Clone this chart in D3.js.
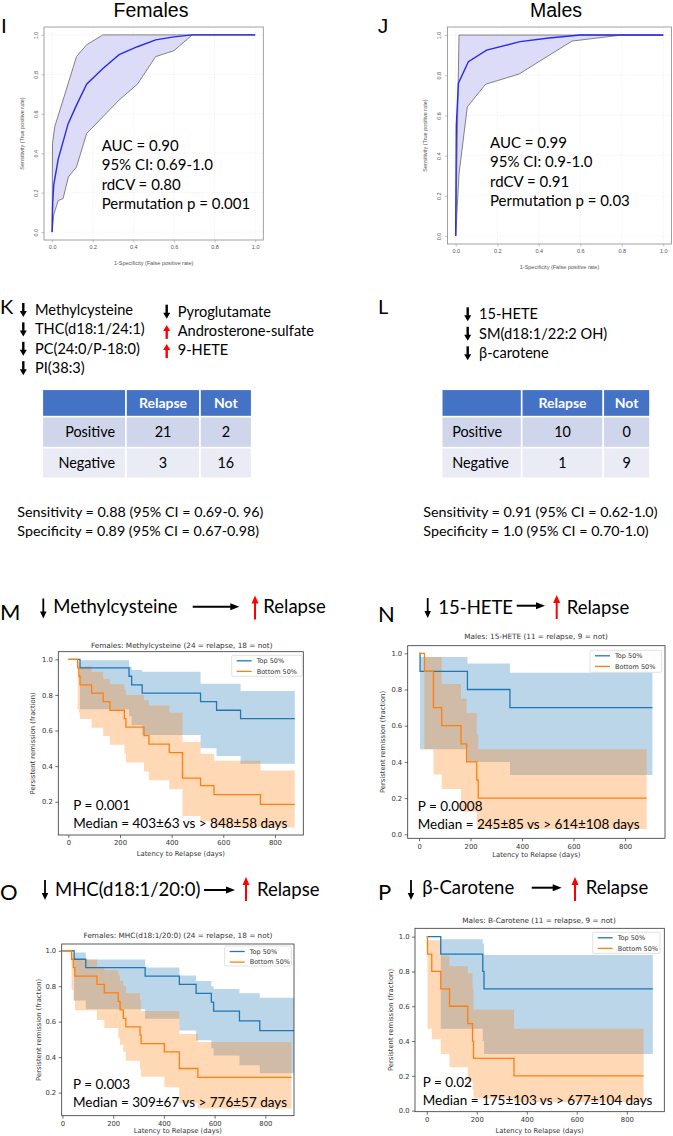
<!DOCTYPE html>
<html>
<head>
<meta charset="utf-8">
<script src="https://cdn.jsdelivr.net/npm/d3@7"></script>
<style>
  body { margin: 0; background: #fff; }
  svg { display: block; }
</style>
</head>
<body>
<div id="chart"></div>
<script>
var width = 673;
var height = 1136;

// ---- ROC curves, points are [false positive rate, true positive rate] ----
var rocFemMean  = [[0,0],[0.003,0.15],[0.008,0.24],[0.03,0.37],[0.079,0.55],[0.123,0.65],[0.17,0.75],[0.25,0.83],[0.33,0.9],[0.42,0.94],[0.51,0.975],[0.6,0.99],[0.69,1],[1,1]];
var rocFemUpper = [[0,0],[0.002,0.45],[0.013,0.535],[0.054,0.67],[0.12,0.89],[0.17,0.95],[0.25,1],[1,1]];
var rocFemLower = [[0,0],[0.008,0.088],[0.03,0.16],[0.054,0.17],[0.08,0.28],[0.12,0.33],[0.17,0.5],[0.33,0.67],[0.42,0.75],[0.51,0.89],[0.6,0.92],[0.69,1],[1,1]];
var rocMaleMean  = [[0,0],[0.003,0.55],[0.013,0.76],[0.061,0.867],[0.149,0.925],[0.31,0.967],[0.45,0.985],[0.6,1],[1,1]];
var rocMaleUpper = [[0,0],[0.003,0.2],[0.016,1],[1,1]];
var rocMaleLower = [[0,0],[0.016,0.31],[0.056,0.643],[0.144,0.755],[0.305,0.806],[0.56,0.97],[0.8,1],[1,1]];
var rocTicks = [0, 0.2, 0.4, 0.6, 0.8, 1.0];
var rocFemStats  = ["AUC = 0.90", "95% CI: 0.69-1.0", "rdCV = 0.80", "Permutation p = 0.001"];
var rocMaleStats = ["AUC = 0.99", "95% CI: 0.9-1.0", "rdCV = 0.91", "Permutation p = 0.03"];

// ---- metabolite panels and confusion tables ----
var femDown = ["Methylcysteine", "THC(d18:1/24:1)", "PC(24:0/P-18:0)", "PI(38:3)"];
var femMixed = [["down","Pyroglutamate"], ["up","Androsterone-sulfate"], ["up","9-HETE"]];
var maleDown = ["15-HETE", "SM(d18:1/22:2 OH)", "\u03b2-carotene"];
var tableHead = ["", "Relapse", "Not"];
var femTable  = [["Positive", 21, 2], ["Negative", 3, 16]];
var maleTable = [["Positive", 10, 0], ["Negative", 1, 9]];
var femSens  = ["Sensitivity = 0.88 (95% CI = 0.69-0. 96)", "Specificity = 0.89 (95% CI = 0.67-0.98)"];
var maleSens = ["Sensitivity = 0.91 (95% CI = 0.62-1.0)", "Specificity = 1.0 (95% CI = 0.70-1.0)"];

// ---- Kaplan-Meier curves (days, survival, 95% CI lower, upper) ----
var mTopT  = [0, 45, 235, 245, 286, 512, 574, 667];
var mTopS  = [1, .952, .905, .857, .81, .762, .714, .667];
var mTopLo = [1, .72, .68, .63, .575, .50, .457, .413];
var mTopHi = [1, .995, .96, .94, .93, .863, .863, .822];
var mBotT  = [0, 36, 41, 45, 90, 135, 161, 217, 223, 293, 312, 391, 442, 512, 564, 744];
var mBotS  = [1, .952, .905, .857, .81, .762, .714, .667, .619, .571, .524, .476, .333, .29, .24, .185];
var mBotLo = [1, .72, .70, .665, .615, .57, .52, .47, .42, .37, .32, .27, .12, .09, .055, .055];
var mBotHi = [1, .99, .98, .96, .93, .89, .86, .83, .80, .77, .74, .70, .535, .47, .43, .376];

var nTopT  = [0, 4, 188, 353];
var nTopS  = [1, .9, .8, .7];
var nTopLo = [1, .47, .40, .328];
var nTopHi = [1, .98, .944, .893];
var nBotT  = [0, 21, 56, 88, 163, 185, 224, 230];
var nBotS  = [1, .9, .7, .6, .5, .4, .3, .2];
var nBotLo = [1, .47, .33, .25, .125, .125, .05, .03];
var nBotHi = [1, .98, .98, .83, .75, .67, .55, .47];

var oTopT  = [0, 46, 92, 326, 461, 527, 587, 596, 698, 778];
var oTopS  = [1, .952, .905, .857, .81, .76, .71, .66, .605, .55];
var oTopLo = [1, .72, .67, .617, .55, .495, .45, .41, .355, .31];
var oTopHi = [1, .99, .95, .905, .86, .83, .80, .785, .76, .735];
var oBotT  = [0, 36, 43, 49, 136, 165, 220, 227, 240, 250, 306, 310, 402, 461, 534];
var oBotS  = [1, .952, .905, .857, .81, .762, .714, .667, .619, .571, .524, .476, .43, .336, .286];
var oBotLo = [1, .78, .72, .665, .61, .565, .51, .47, .43, .38, .33, .29, .23, .14, .11];
var oBotHi = [1, .99, .97, .95, .905, .89, .86, .83, .80, .76, .72, .66, .66, .53, .486];

var pTopT  = [0, 56, 224, 229];
var pTopS  = [1, .9, .8, .7];
var pTopLo = [1, .47, .40, .325];
var pTopHi = [1, .985, .96, .894];
var pBotT  = [0, 3, 20, 56, 91, 164, 183, 187, 349];
var pBotS  = [1, .9, .8, .7, .6, .5, .4, .3, .2];
var pBotLo = [1, .47, .41, .325, .25, .17, .12, .07, .05];
var pBotHi = [1, .98, .98, .89, .83, .79, .70, .58, .47];

var kmXTicks = [0, 200, 400, 600, 800];
var legendNames = ["Top 50%", "Bottom 50%"];

var sans = "Lato, 'Open Sans', sans-serif";
var arial = "'Liberation Sans', Arial, sans-serif";
var dejavu = "'DejaVu Sans', sans-serif";
var blue = "#1f77b4", orange = "#ff7f0e";

var svg = d3.select("#chart").append("svg")
    .attr("width", width)
    .attr("height", height);

function text(x, y, s, size, font, opts) {
    opts = opts || {};
    return svg.append("text")
        .attr("x", x).attr("y", y)
        .attr("font-family", font)
        .attr("font-size", size)
        .attr("font-weight", opts.weight || "normal")
        .attr("fill", opts.fill || "#000")
        .attr("text-anchor", opts.anchor || "start")
        .text(s);
}

// vertical arrow from tail y1 to tip y2
function vArrow(x, y1, y2, color, w, headW, headH) {
    var dir = y2 > y1 ? 1 : -1;
    var yb = y2 - dir * headH;
    svg.append("line").attr("x1", x).attr("x2", x).attr("y1", y1).attr("y2", yb + dir * 0.5)
        .attr("stroke", color).attr("stroke-width", w);
    svg.append("path").attr("d", "M" + (x - headW / 2) + "," + yb + "L" + (x + headW / 2) + "," + yb + "L" + x + "," + y2 + "Z")
        .attr("fill", color);
}
function hArrow(x1, x2, y, color, w, headW, headH) {
    var xb = x2 - headH;
    svg.append("line").attr("x1", x1).attr("x2", xb + 0.5).attr("y1", y).attr("y2", y)
        .attr("stroke", color).attr("stroke-width", w);
    svg.append("path").attr("d", "M" + xb + "," + (y - headW / 2) + "L" + xb + "," + (y + headW / 2) + "L" + x2 + "," + y + "Z")
        .attr("fill", color);
}

// ---------------- ROC panels ----------------
function drawRoc(p) {
    var x = d3.scaleLinear().domain([-0.04, 1.04]).range([p.box[0], p.box[2]]);
    var y = d3.scaleLinear().domain([-0.04, 1.04]).range([p.box[3], p.box[1]]);
    var g = svg.append("g");
    // grid
    g.selectAll(".gx").data(rocTicks).enter().append("line")
        .attr("x1", d => x(d)).attr("x2", d => x(d)).attr("y1", p.box[1]).attr("y2", p.box[3])
        .attr("stroke", "#e2e2e2").attr("stroke-width", 0.6).attr("stroke-dasharray", "1,1.5");
    g.selectAll(".gy").data(rocTicks).enter().append("line")
        .attr("y1", d => y(d)).attr("y2", d => y(d)).attr("x1", p.box[0]).attr("x2", p.box[2])
        .attr("stroke", "#e2e2e2").attr("stroke-width", 0.6).attr("stroke-dasharray", "1,1.5");
    var line = d3.line().x(d => x(d[0])).y(d => y(d[1]));
    var band = p.upper.concat(p.lower.slice().reverse());
    g.append("path").attr("d", line(band) + "Z").attr("fill", "#dcdcf8").attr("stroke", "none");
    g.append("path").attr("d", line(p.upper)).attr("fill", "none").attr("stroke", "#666").attr("stroke-width", 0.8);
    g.append("path").attr("d", line(p.lower)).attr("fill", "none").attr("stroke", "#666").attr("stroke-width", 0.8);
    g.append("path").attr("d", line(p.mean)).attr("fill", "none").attr("stroke", "#2a2aee").attr("stroke-width", 1.4);
    g.append("rect").attr("x", p.box[0]).attr("y", p.box[1])
        .attr("width", p.box[2] - p.box[0]).attr("height", p.box[3] - p.box[1])
        .attr("fill", "none").attr("stroke", "#8a8a8a").attr("stroke-width", 0.8);
    // axes
    var ax = g.append("g").attr("transform", "translate(0," + p.box[3] + ")")
        .call(d3.axisBottom(x).tickValues(rocTicks).tickSize(2.5).tickPadding(3).tickFormat(d3.format(".1f")));
    var ay = g.append("g").attr("transform", "translate(" + p.box[0] + ",0)")
        .call(d3.axisLeft(y).tickValues(rocTicks).tickSize(2.5).tickPadding(2).tickFormat(d3.format(".1f")));
    [ax, ay].forEach(function (a) {
        a.select(".domain").remove();
        a.selectAll("line").attr("stroke", "#999").attr("stroke-width", 0.6);
        a.selectAll("text").attr("font-family", arial).attr("font-size", 5.5).attr("fill", "#555");
    });
    // R style: y tick labels read upwards
    ay.selectAll("text").attr("text-anchor", "middle").attr("dy", 0).attr("x", 0).attr("y", 0)
        .attr("transform", "translate(-6.5,0) rotate(-90)");
    text((p.box[0] + p.box[2]) / 2, p.box[3] + 25, "1-Specificity (False positive rate)", 5.5, arial, { anchor: "middle", fill: "#555" });
    svg.append("text").attr("transform", "translate(" + p.ylabX + "," + ((p.box[1] + p.box[3]) / 2) + ") rotate(-90)")
        .attr("text-anchor", "middle").attr("font-family", arial).attr("font-size", 5.5).attr("fill", "#555")
        .text("Sensitivity (True positive rate)");
    p.stats.forEach(function (s, i) {
        text(p.statX, p.statY + i * 19.4, s, 15, sans);
    });
    text(p.titleX, 16.5, p.title, 19.5, arial, { anchor: "middle" });
    text(p.letterX, 33.3, p.letter, 21, arial);
}

drawRoc({ box: [44, 27, 263.3, 240], mean: rocFemMean, upper: rocFemUpper, lower: rocFemLower,
    stats: rocFemStats, statX: 101.7, statY: 150.7, title: "Females", titleX: 151, letter: "I", letterX: 1, ylabX: 24 });
drawRoc({ box: [447.4, 27, 671.6, 244], mean: rocMaleMean, upper: rocMaleUpper, lower: rocMaleLower,
    stats: rocMaleStats, statX: 490, statY: 147.7, title: "Males", titleX: 556, letter: "J", letterX: 377.7, ylabX: 427 });

// ---------------- K / L lists ----------------
text(0, 314, "K", 20, sans);
text(378, 314, "L", 20, sans);
femDown.forEach(function (s, i) {
    var b = 315 + i * 19.4;
    vArrow(23.3, b - 12, b + 2, "#000", 2.4, 7, 6);
    text(35, b, s, 14.6, sans);
});
femMixed.forEach(function (d, i) {
    var b = 316.7 + i * 19.2;
    if (d[0] === "down") vArrow(166.7, b - 12, b + 2, "#000", 2.4, 7, 6);
    else vArrow(166.7, b + 3, b - 11, "#ff0000", 2.4, 7, 6);
    text(177.7, b, d[1], 14.6, sans);
});
maleDown.forEach(function (s, i) {
    var b = 319.3 + i * 19.5;
    vArrow(467.7, b - 12, b + 2, "#000", 2.4, 7, 6);
    text(479, b, s, 14.6, sans);
});

function drawTable(p) {
    var xs = [p.x0];
    p.colW.forEach(function (w) { xs.push(xs[xs.length - 1] + w); });
    var ys = [p.y0];
    p.rowH.forEach(function (h) { ys.push(ys[ys.length - 1] + h); });
    var fills = ["#4472c4", "#cfd5ea", "#e9ebf5"];
    var rows = [tableHead].concat(p.rows);
    rows.forEach(function (r, ri) {
        r.forEach(function (c, ci) {
            svg.append("rect").attr("x", xs[ci]).attr("y", ys[ri])
                .attr("width", xs[ci + 1] - xs[ci]).attr("height", ys[ri + 1] - ys[ri])
                .attr("fill", fills[ri]).attr("stroke", "#fff").attr("stroke-width", 1.6);
            var cy = ys[ri] + (ys[ri + 1] - ys[ri]) / 2 + 5;
            if (ri === 0) {
                if (c !== "") text((xs[ci] + xs[ci + 1]) / 2, cy, c, 14, sans, { anchor: "middle", weight: "bold", fill: "#fff" });
            } else if (ci === 0) {
                if (p.labelAlign === "end") text(xs[1] - 11, cy, c, 14.4, sans, { anchor: "end" });
                else text(xs[0] + 10.5, cy, c, 14.4, sans);
            } else {
                text((xs[ci] + xs[ci + 1]) / 2, cy, c, 14.4, sans, { anchor: "middle" });
            }
        });
    });
}
drawTable({ x0: 42.3, y0: 389.3, colW: [83.7, 74, 51.7], rowH: [27.4, 31, 30.6], rows: femTable, labelAlign: "end" });
drawTable({ x0: 441.7, y0: 389.3, colW: [80, 81.6, 46.7], rowH: [27.4, 31, 30.6], rows: maleTable, labelAlign: "start" });

femSens.forEach(function (s, i) { text(17.3, 516.7 + i * 19, s, 14.3, sans); });
maleSens.forEach(function (s, i) { text(423.3, 516.7 + i * 19, s, 14.3, sans); });

// ---------------- Kaplan-Meier panels ----------------
function headline(p) {
    text(p.letterX, p.letterY, p.letter, 22, sans);
    vArrow(p.downX, p.arrowTop, p.arrowTop + 20, "#000", 1.8, 6.5, 7);
    text(p.nameX, p.base, p.name, 18.5, sans);
    hArrow(p.hx1, p.hx2, p.hy, "#000", 2, 7, 9);
    vArrow(p.upX, p.arrowTop + 21, p.arrowTop - 3, "#ff0000", 2, 7, 8);
    text(p.relX, p.base, "Relapse", 18.5, sans);
}

function drawKM(p) {
    var x = d3.scaleLinear().domain(p.xDom).range([p.box[0], p.box[2]]);
    var y = d3.scaleLinear().domain(p.yDom).range([p.box[3], p.box[1]]);
    var clipId = "clip" + p.id;
    svg.append("clipPath").attr("id", clipId).append("rect")
        .attr("x", p.box[0]).attr("y", p.box[1]).attr("width", p.box[2] - p.box[0]).attr("height", p.box[3] - p.box[1]);
    var g = svg.append("g").attr("clip-path", "url(#" + clipId + ")");
    var series = p.series.map(function (s) {
        var pts = s.t.map(function (t, i) { return { t: t, s: s.s[i], lo: s.lo[i], hi: s.hi[i] }; });
        var last = pts[pts.length - 1];
        pts.push({ t: s.end, s: last.s, lo: last.lo, hi: last.hi });
        return { pts: pts, color: s.color };
    });
    var area = d3.area().curve(d3.curveStepAfter).x(d => x(d.t)).y0(d => y(d.lo)).y1(d => y(d.hi));
    var line = d3.line().curve(d3.curveStepAfter).x(d => x(d.t)).y(d => y(d.s));
    series.forEach(function (s) {
        g.append("path").attr("d", area(s.pts)).attr("fill", s.color).attr("fill-opacity", 0.3);
    });
    series.forEach(function (s) {
        g.append("path").attr("d", line(s.pts)).attr("fill", "none").attr("stroke", s.color).attr("stroke-width", 1.3);
    });
    svg.append("rect").attr("x", p.box[0]).attr("y", p.box[1])
        .attr("width", p.box[2] - p.box[0]).attr("height", p.box[3] - p.box[1])
        .attr("fill", "none").attr("stroke", "#333").attr("stroke-width", 0.8);
    var ax = svg.append("g").attr("transform", "translate(0," + p.box[3] + ")")
        .call(d3.axisBottom(x).tickValues(kmXTicks).tickSize(3).tickPadding(2.5).tickFormat(d3.format("d")));
    var ay = svg.append("g").attr("transform", "translate(" + p.box[0] + ",0)")
        .call(d3.axisLeft(y).tickValues(p.yTicks).tickSize(3).tickPadding(2.5).tickFormat(d3.format(".1f")));
    [ax, ay].forEach(function (a) {
        a.select(".domain").remove();
        a.selectAll("line").attr("stroke", "#333").attr("stroke-width", 0.7);
        a.selectAll("text").attr("font-family", dejavu).attr("font-size", 6.8).attr("fill", "#333");
    });
    text((p.box[0] + p.box[2]) / 2, p.xlabY, "Latency to Relapse (days)", 6.8, dejavu, { anchor: "middle", fill: "#333" });
    svg.append("text").attr("transform", "translate(" + p.ylabX + "," + ((p.box[1] + p.box[3]) / 2) + ") rotate(-90)")
        .attr("text-anchor", "middle").attr("font-family", dejavu).attr("font-size", 6.8).attr("fill", "#333")
        .text("Persistent remission (fraction)");
    text(p.titleX, p.titleY, p.title, 7.3, dejavu, { anchor: "middle", fill: "#333" });
    // legend
    var L = p.legend;
    svg.append("rect").attr("x", L[0]).attr("y", L[1]).attr("width", L[2] - L[0]).attr("height", L[3] - L[1])
        .attr("rx", 1.5).attr("fill", "#fff").attr("fill-opacity", 0.85).attr("stroke", "#ccc").attr("stroke-width", 0.6);
    [blue, orange].forEach(function (c, i) {
        var ly = L[1] + 5.5 + i * 10.6;
        svg.append("line").attr("x1", L[0] + 5).attr("x2", L[0] + 20).attr("y1", ly).attr("y2", ly)
            .attr("stroke", c).attr("stroke-width", 1.3);
        text(L[0] + 25, ly + 2.3, legendNames[i], 6.5, dejavu, { fill: "#333" });
    });
    text(p.textX, p.pY, p.pText, 13.5, sans);
    text(p.textX, p.medY, p.medText, 13.5, sans);
}

headline({ letter: "M", letterX: 0, letterY: 620, downX: 43.3, arrowTop: 598.5, name: "Methylcysteine", nameX: 53.3,
    base: 613.3, hx1: 192.7, hx2: 239.3, hy: 606.7, upX: 255, relX: 263.3 });
headline({ letter: "N", letterX: 378, letterY: 621.7, downX: 427.7, arrowTop: 598, name: "15-HETE", nameX: 438.3,
    base: 614.3, hx1: 516.7, hx2: 545, hy: 605.7, upX: 556.7, relX: 566.7 });
headline({ letter: "O", letterX: 0, letterY: 900, downX: 45, arrowTop: 880, name: "MHC(d18:1/20:0)", nameX: 55,
    base: 896, hx1: 204, hx2: 235, hy: 890, upX: 246, relX: 257 });
headline({ letter: "P", letterX: 378, letterY: 900, downX: 411, arrowTop: 880, name: "\u03b2-Carotene", nameX: 422.3,
    base: 894.3, hx1: 531.7, hx2: 561.7, hy: 887.7, upX: 575, relX: 585.7 });

drawKM({ id: "M", box: [58.3, 651.7, 303.3, 835], xDom: [-39, 910], yDom: [0.013, 1.043], yTicks: [0.2, 0.4, 0.6, 0.8, 1.0],
    series: [{ t: mTopT, s: mTopS, lo: mTopLo, hi: mTopHi, end: 877, color: blue },
             { t: mBotT, s: mBotS, lo: mBotLo, hi: mBotHi, end: 877, color: orange }],
    title: "Females: Methylcysteine (24 = relapse, 18 = not)", titleX: 181.7, titleY: 648.3, ylabX: 35, xlabY: 856,
    legend: [231.7, 655.3, 302.3, 676.3], textX: 73.3, pY: 810.3, medY: 828,
    pText: "P = 0.001", medText: "Median = 403\u00b163 vs > 848\u00b158 days" });
drawKM({ id: "N", box: [407.7, 645.7, 665, 838.3], xDom: [-44, 955], yDom: [-0.022, 1.042], yTicks: [0, 0.2, 0.4, 0.6, 0.8, 1.0],
    series: [{ t: nTopT, s: nTopS, lo: nTopLo, hi: nTopHi, end: 906, color: blue },
             { t: nBotT, s: nBotS, lo: nBotLo, hi: nBotHi, end: 884, color: orange }],
    title: "Males: 15-HETE (11 = relapse, 9 = not)", titleX: 536, titleY: 639.3, ylabX: 385, xlabY: 857,
    legend: [590, 650.3, 661.7, 672.3], textX: 417.7, pY: 811.3, medY: 828.7,
    pText: "P = 0.0008", medText: "Median = 245\u00b185 vs > 614\u00b1108 days" });
drawKM({ id: "O", box: [61.7, 944, 294, 1115.7], xDom: [-3, 913], yDom: [0.07, 1.038], yTicks: [0.2, 0.4, 0.6, 0.8, 1.0],
    series: [{ t: oTopT, s: oTopS, lo: oTopLo, hi: oTopHi, end: 915, color: blue },
             { t: oBotT, s: oBotS, lo: oBotLo, hi: oBotHi, end: 903, color: orange }],
    title: "Females: MHC(d18:1/20:0) (24 = relapse, 18 = not)", titleX: 178, titleY: 937.7, ylabX: 41, xlabY: 1132.5,
    legend: [224.7, 946, 291.3, 966], textX: 73, pY: 1089, medY: 1106.7,
    pText: "P = 0.003", medText: "Median = 309\u00b167 vs > 776\u00b157 days" });
drawKM({ id: "P", box: [415, 928.3, 664.3, 1111.7], xDom: [-47, 950], yDom: [-0.006, 1.048], yTicks: [0, 0.2, 0.4, 0.6, 0.8, 1.0],
    series: [{ t: pTopT, s: pTopS, lo: pTopLo, hi: pTopHi, end: 904, color: blue },
             { t: pBotT, s: pBotS, lo: pBotLo, hi: pBotHi, end: 867, color: orange }],
    title: "Males: B-Carotene (11 = relapse, 9 = not)", titleX: 539, titleY: 923.3, ylabX: 393, xlabY: 1132.5,
    legend: [592.7, 932.3, 660, 953.3], textX: 422.7, pY: 1087.3, medY: 1105,
    pText: "P = 0.02", medText: "Median = 175\u00b1103 vs > 677\u00b1104 days" });
</script>
</body>
</html>
